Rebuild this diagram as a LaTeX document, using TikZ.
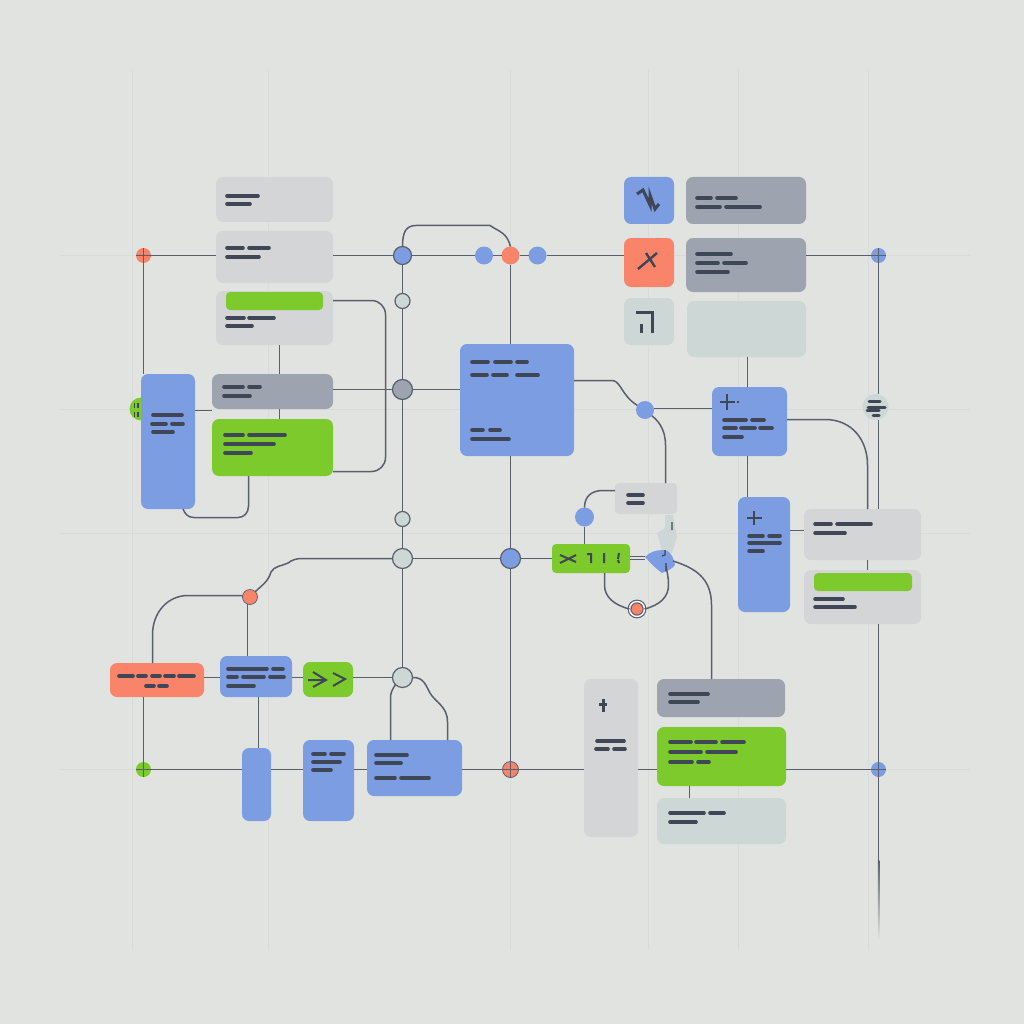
\documentclass[tikz,border=0pt]{standalone}
\usepackage{tikz}
\definecolor{cblue}{HTML}{7C9DE2}
\definecolor{cgreen}{HTML}{7CCA2B}
\definecolor{corange}{HTML}{F9846A}
\definecolor{clight}{HTML}{D3D5D7}
\definecolor{cslate}{HTML}{9DA4B0}
\definecolor{cpale}{HTML}{CDD7D5}
\definecolor{cback}{HTML}{E1E3E0}
\definecolor{cfaint}{HTML}{D9DBD8}
\definecolor{cwire}{HTML}{5A606B}
\definecolor{cbar}{HTML}{3F4656}

\begin{document}
\begin{tikzpicture}[x=1pt, y=-1pt,
    card/.style ={rectangle, rounded corners=7pt, inner sep=0pt, outer sep=0pt},
    hub/.style ={circle, draw=cwire, line width=1.2pt, inner sep=0pt, outer sep=0pt},
    dot/.style ={circle, inner sep=0pt, outer sep=0pt, minimum size=18pt, fill=cblue},
    crossed/.style ={circle, inner sep=0pt, outer sep=0pt, minimum size=15pt,
      path picture={\draw[cwire, line width=0.9pt] (path picture bounding box.north) -- (path picture bounding box.south)
        (path picture bounding box.west) -- (path picture bounding box.east);}},
    wire/.style ={draw=cwire, line width=1.5pt},
    bar/.style ={draw=cbar, line width=3.6pt, line cap=round},
    glyph/.style ={draw=cbar, line width=2pt},
    backline/.style ={draw=cfaint, line width=0.8pt}]
   \useasboundingbox (0,0) rectangle (1024,1024);
   \fill[cback] (0,0) rectangle (1024,1024);

   \draw[backline] (132,70) -- (132,950);
   \draw[backline] (268,70) -- (268,950);
   \draw[backline] (510,70) -- (510,950);
   \draw[backline] (648,70) -- (648,950);
   \draw[backline] (738,70) -- (738,950);
   \draw[backline] (868,70) -- (868,950);
   \draw[backline] (60,255) -- (970,255);
   \draw[backline] (60,409) -- (970,409);
   \draw[backline] (60,533) -- (970,533);
   \draw[backline] (60,769) -- (970,769);

   \node[circle, fill=cgreen, inner sep=0pt, minimum size=23pt] (badge) at (141,409) {};
   \draw[draw=cbar, line width=1.6pt] (134.5,403) -- (134.5,408) (138,403) -- (138,408) (134.5,412) -- (134.5,417) (138,412) -- (138,417);

   % top left column
   \node[card, fill=clight, minimum width=117pt, minimum height=45pt] (cardA) at (274.5,199.5) {};
   \node[card, fill=clight, minimum width=117pt, minimum height=52pt] (cardB) at (274.5,257) {};
   \node[card, fill=clight, minimum width=117pt, minimum height=54pt] (cardC) at (274.5,318) {};
   \node[card, fill=cslate, minimum width=121pt, minimum height=35pt] (cardD) at (272.5,391.5) {};
   \node[card, fill=cgreen, minimum width=121pt, minimum height=57pt] (cardE) at (272.5,447.5) {};
   \node[card, fill=cblue, minimum width=54pt, minimum height=135pt] (tallA) at (168,441.5) {};
   \node[card, fill=cgreen, rounded corners=4pt, minimum width=97pt, minimum height=18pt] (bannerA) at (274.5,301) {};

   % top right
   \node[card, fill=cblue, minimum width=50pt, minimum height=47pt] (iconA) at (649,200.5) {};
   \node[card, fill=corange, minimum width=50pt, minimum height=49pt] (iconB) at (649,262.5) {};
   \node[card, fill=cpale, minimum width=50pt, minimum height=47pt] (iconC) at (649,321.5) {};
   \node[card, fill=cslate, minimum width=120pt, minimum height=47pt] (cardF) at (746,200.5) {};
   \node[card, fill=cslate, minimum width=120pt, minimum height=54pt] (cardG) at (746,265) {};
   \node[card, fill=cpale, minimum width=119pt, minimum height=56pt] (cardH) at (746.5,329) {};
   \node[card, fill=cblue, minimum width=114pt, minimum height=112pt] (bigA) at (517,400) {};
   \node[card, fill=cblue, minimum width=75pt, minimum height=69pt] (blueB) at (749.5,421.5) {};
   \node[card, fill=cblue, minimum width=52pt, minimum height=115pt] (tallB) at (764,554.5) {};
   \node[card, fill=clight, minimum width=117pt, minimum height=51pt] (cardI) at (862.5,534.5) {};
   \node[card, fill=clight, minimum width=117pt, minimum height=54pt] (cardJ) at (862.5,597) {};
   \node[card, fill=cgreen, rounded corners=4pt, minimum width=98pt, minimum height=18pt] (bannerB) at (863,582) {};

   % middle
   \node[card, fill=clight, rounded corners=4pt, minimum width=62pt, minimum height=31pt] (smallA) at (646,498.5) {};
   \node[card, fill=cgreen, rounded corners=4pt, minimum width=78pt, minimum height=29pt] (flag) at (591,558.5) {};

   % bottom right
   \node[card, fill=clight, minimum width=54pt, minimum height=158pt] (tallC) at (611,758) {};
   \node[card, fill=cslate, minimum width=128pt, minimum height=38pt] (cardK) at (721,698) {};
   \node[card, fill=cgreen, minimum width=129pt, minimum height=59pt] (cardL) at (721.5,756.5) {};
   \node[card, fill=cpale, minimum width=129pt, minimum height=46pt] (cardM) at (721.5,821) {};

   % bottom left
   \node[card, fill=corange, minimum width=94pt, minimum height=34pt] (flagA) at (157,680) {};
   \node[card, fill=cblue, minimum width=72pt, minimum height=41pt] (blueC) at (256,676.5) {};
   \node[card, fill=cgreen, minimum width=50pt, minimum height=35pt] (arrowbox) at (328,679.5) {};
   \node[card, fill=cblue, minimum width=29pt, minimum height=73pt] (blueD) at (256.5,784.5) {};
   \node[card, fill=cblue, minimum width=51pt, minimum height=81pt] (blueE) at (328.5,780.5) {};
   \node[card, fill=cblue, minimum width=95pt, minimum height=56pt] (blueF) at (414.5,768) {};

   % round nodes
   \node[crossed, fill=corange] (dotA) at (143.5,255.5) {};
   \node[crossed, fill=cblue] (dotF) at (878.5,255.5) {};
   \node[crossed, fill=cgreen] (dotE) at (143.5,769.5) {};
   \node[crossed, fill=corange, draw=cwire, line width=0.8pt, minimum size=16pt] (dotK) at (510.5,769.5) {};
   \node[crossed, fill=cblue] (dotH) at (878.5,769.5) {};
   \node[dot] (dotB) at (484,255.5) {};
   \node[dot, fill=corange] (dotC) at (510.5,255.5) {};
   \node[dot] (dotD) at (537.5,255.5) {};
   \node[dot] (dotG) at (645,410) {};
   \node[dot, minimum size=19pt] (dotJ) at (584.5,517) {};
   \node[dot, fill=corange, draw=cwire, line width=0.7pt, minimum size=15pt] (dotL) at (250,597) {};
   \node[hub, fill=cblue, minimum size=18pt] (hubA) at (402.5,255.5) {};
   \node[hub, fill=cpale, minimum size=15pt] (hubB) at (402.5,301) {};
   \node[hub, fill=cslate, minimum size=20pt] (hubC) at (402.5,389.5) {};
   \node[hub, fill=cpale, minimum size=15pt] (hubD) at (402.5,519) {};
   \node[hub, fill=cpale, minimum size=20pt] (hubE) at (402.5,558.5) {};
   \node[hub, fill=cpale, minimum size=20pt] (hubF) at (402.5,677.5) {};
   \node[hub, fill=cblue, minimum size=20pt] (hubH) at (510.5,558.5) {};
   \node[hub, fill=corange, double=white, double distance=1.4pt, minimum size=15pt] (hubL) at (637,609) {};
   \node[circle, fill=cpale, inner sep=0pt, minimum size=26pt] (hubG) at (875.5,407) {};

   % blob beside the flag
   \fill[cpale] (665,515) -- (673,515) -- (677,537) -- (672,553) -- (662,550) -- (657,533) -- (665,528) -- cycle;
   \fill[cblue] (645,557) .. controls (650,552) and (655,550) .. (665,550) .. controls (672,552) and (674,560) .. (675,565)
     .. controls (672,569) and (667,571) .. (662,573) .. controls (658,570) and (654,567) .. (645,557) -- cycle;
   \coordinate (blobA) at (645,556.5);
   \coordinate (blobB) at (645,559.5);
   \coordinate (blobC) at (673,561);
   \coordinate (blobD) at (666,566);
   \coordinate (tail) at (878.5,860);
   \coordinate (tapC) at (333,300.5);
   \coordinate (tapG) at (0,408.5);

   % connectors
   \draw[wire] (dotA) -- (dotA -| cardB.west);
   \draw[wire] (cardB.east |- hubA) -- (hubA);
   \draw[wire] (hubA) -- (dotB);
   \draw[wire] (dotB) -- (dotC);
   \draw[wire] (dotC) -- (dotD);
   \draw[wire] (dotD) -- (dotD -| iconB.west);
   \draw[wire] (cardG.east |- dotF) -- (dotF);
   \draw[wire] (dotF) -- (dotF |- hubG.north);
   \draw[wire] (dotF |- hubG.south) -- (dotF |- cardI.north);
   \draw[wire] (dotF |- cardJ.south) -- (dotH);
   \draw[wire] (dotH) -- (tail);
   \shade[top color=cwire, bottom color=cback] (877.75,860) rectangle (879.25,940);
   \draw[wire] (dotA) -- (dotA |- tallA.north);

   \draw[wire] (hubA) -- (hubB);
   \draw[wire] (hubB) -- (hubC);
   \draw[wire] (hubC) -- (hubD);
   \draw[wire] (hubD) -- (hubE);
   \draw[wire] (hubE) -- (hubF);
   \draw[wire] (cardD.east |- hubC) -- (hubC);
   \draw[wire] (hubC) -- (hubC -| bigA.west);
   \draw[wire] (hubE) -- (hubH);
   \draw[wire] (hubH) -- (hubH -| flag.west);
   \draw[wire] (dotC) -- (dotC |- bigA.north);
   \draw[wire] (hubH |- bigA.south) -- (hubH);
   \draw[wire] (hubH) -- (dotK);

   \draw[wire] (hubA.north) .. controls (402.5,232) and (406,225.5) .. (416,225.5) -- (490,225.5) .. controls (500,232) and (507,233) .. (dotC.north);
   \draw[wire] (279.5,345) -- (279.5,374);
   \draw[wire] (279.5,409) -- (279.5,419);
   \draw[wire] (tallA.east |- 0,410.5) -- (212,410.5);
   \draw[wire, rounded corners=14pt] (tapC) -- (385.5,300.5) -- (385.5,471.5) -- (cardE.east |- 0,471.5);
   \draw[wire] (248.5,476) -- (248.5,506) .. controls (248.5,513) and (244,517.5) .. (238,517.5) -- (194,517.5) .. controls (188,517.5) and (185,514) .. (183,509);

   \draw[wire] (747.5,357) -- (747.5,387);
   \draw[wire] (bigA.east |- 0,380.5) -- (613,380.5) .. controls (621,382) and (622,396) .. (dotG);
   \draw[wire] (dotG.east |- tapG) -- (blueB.west |- tapG);
   \draw[wire] (dotG) .. controls (657,420) and (665.5,428) .. (665.5,445) -- (665.5,483);
   \draw[wire] (blueB.east |- 0,419.5) -- (825,419.5) .. controls (852,419.5) and (867.5,440) .. (867.5,465) -- (867.5,509);
   \draw[wire] (867.5,560) -- (867.5,570);
   \draw[wire] (747.5,456) -- (747.5,497);
   \draw[wire] (tallB.east |- 0,530.5) -- (cardI.west |- 0,530.5);

   \draw[wire] (smallA.west |- 0,490.5) -- (603,490.5) .. controls (592,490.5) and (584.5,496) .. (dotJ.north);
   \draw[wire] (dotJ) -- (dotJ |- flag.north);
   \draw[wire, line width=1.2pt] (flag.east |- blobA) -- (blobA);
   \draw[wire, line width=1.2pt] (flag.east |- blobB) -- (blobB);
   \draw[wire] (604.5,573) -- (604.5,585) .. controls (604.5,597) and (614,605) .. (hubL.west);
   \draw[wire] (hubL.east) .. controls (660,605) and (668.5,597) .. (668.5,585) .. controls (668.5,577) and (667,572) .. (blobD);
   \draw[wire] (blobC) .. controls (695,568) and (711.5,578) .. (711.5,605) -- (711.5,679);
   \draw[wire] (689.5,786) -- (689.5,798);

   \draw[wire] (cardL.east |- dotK) -- (dotH);
   \draw[wire] (dotK) -- (dotK -| tallC.west);
   \draw[wire] (tallC.east |- dotK) -- (dotK -| cardL.west);
   \draw[wire] (blueF.east |- dotK) -- (dotK);
   \draw[wire] (blueE.east |- dotE) -- (dotE -| blueF.west);
   \draw[wire] (blueD.east |- dotE) -- (dotE -| blueE.west);
   \draw[wire] (dotE) -- (dotE -| blueD.west);
   \draw[wire] (flagA.south -| dotE) -- (dotE);

   \draw[wire] (flagA.east |- hubF) -- (blueC.west |- hubF);
   \draw[wire] (blueC.east |- hubF) -- (arrowbox.west |- hubF);
   \draw[wire] (arrowbox.east |- hubF) -- (hubF);
   \draw[wire] (152.5,663) -- (152.5,635) .. controls (152.5,612) and (168,595.5) .. (188,595.5) -- (dotL.west |- 0,595.5);
   \draw[wire] (247.5,604) -- (247.5,656);
   \draw[wire] (dotL.north east) .. controls (262,585) and (268,582) .. (271,572) .. controls (274,566) and (282,566) .. (288,563) .. controls (292,560) and (296,558.5) .. (302,558.5) -- (hubE);
   \draw[wire] (258.5,697) -- (258.5,748);
   \draw[wire] (hubF.south west) .. controls (392,690) and (390.5,693) .. (390.5,698) -- (390.5,740);
   \draw[wire] (hubF.east) .. controls (424,677) and (426,686) .. (430,693) .. controls (435,702) and (447.5,706) .. (447.5,722) -- (447.5,740);

   % placeholder lines
   \draw[bar] (227,196) -- (258,196) (227,204) -- (250,204);
   \draw[bar] (227,248) -- (243,248) (249,248) -- (269,248) (227,257) -- (259,257);
   \draw[bar] (227,318) -- (244,318) (249,318) -- (274,318) (227,326) -- (252,326);
   \draw[bar] (224,387) -- (243,387) (249,387) -- (260,387) (224,396) -- (250,396);
   \draw[bar] (225,435) -- (243,435) (249,435) -- (285,435) (225,444) -- (274,444) (225,453) -- (251,453);
   \draw[bar] (153,415) -- (182,415) (152,424) -- (166,424) (172,424) -- (183,424) (153,432) -- (173,432);
   \draw[bar] (472,362) -- (488,362) (495,362) -- (511,362) (517,362) -- (527,362)
     (472,375) -- (487,375) (493,375) -- (507,375) (517,375) -- (538,375)
     (472,430) -- (483,430) (490,430) -- (500,430) (472,439) -- (509,439);
   \draw[bar] (697,198) -- (711,198) (717,198) -- (736,198) (697,207) -- (720,207) (726,207) -- (760,207);
   \draw[bar] (697,254) -- (731,254) (697,263) -- (718,263) (724,263) -- (746,263) (697,272) -- (728,272);
   \draw[bar] (724,420) -- (746,420) (752,420) -- (764,420) (724,428) -- (736,428) (741,428) -- (755,428) (760,428) -- (772,428) (724,437) -- (742,437);
   \draw[bar] (749,536) -- (763,536) (769,536) -- (780,536) (749,543) -- (780,543) (749,551) -- (763,551);
   \draw[bar] (815,524) -- (831,524) (837,524) -- (871,524) (815,533) -- (845,533);
   \draw[bar] (815,599) -- (843,599) (815,607) -- (855,607);
   \draw[bar] (628,495) -- (643,495) (628,503) -- (643,503);
   \draw[bar] (597,741) -- (624,741) (596,749) -- (608,749) (614,749) -- (625,749);
   \draw[bar] (670,694) -- (708,694) (670,702) -- (698,702);
   \draw[bar] (670,742) -- (691,742) (696,742) -- (716,742) (722,742) -- (744,742)
     (670,752) -- (701,752) (707,752) -- (736,752) (670,762) -- (692,762) (698,762) -- (709,762);
   \draw[bar] (670,813) -- (704,813) (710,813) -- (724,813) (670,822) -- (696,822);
   \draw[bar] (119,676) -- (133,676) (138,676) -- (146,676) (152,676) -- (160,676) (165,676) -- (174,676) (179,676) -- (194,676)
     (146,686) -- (154,686) (159,686) -- (167,686);
   \draw[bar] (228,669) -- (267,669) (273,669) -- (283,669) (228,677) -- (237,677) (243,677) -- (264,677) (270,677) -- (284,677) (228,686) -- (254,686);
   \draw[bar] (313,754) -- (325,754) (331,754) -- (344,754) (313,762) -- (340,762) (313,770) -- (331,770);
   \draw[bar] (376,755) -- (407,755) (376,763) -- (401,763) (376,778) -- (395,778) (401,778) -- (429,778);
   \draw[bar, line width=3pt] (869,401) -- (880,401) (868,407) -- (885,407) (867,410) -- (879,410) (873,415) -- (879,415);

   % small marks
   \draw[glyph, line width=3pt] (637,194) -- (643,190) -- (650,205) -- (650,195) -- (655,209) -- (659,204);
   \draw[glyph, line width=2.4pt] (638,269) -- (657,253) (646,253) -- (655,267);
   \draw[glyph, line width=3pt] (636,312) -- (652,312) -- (652,333) (641,324) -- (641,333);
   \draw[glyph] (720,402) -- (735,402) (727,394) -- (727,410) (737,402) -- (739,402);
   \draw[glyph] (747,518) -- (762,518) (754,511) -- (754,525);
   \draw[glyph, line width=3pt] (603,699) -- (603,712) (599,704) -- (607,704);
   \draw[glyph] (308,680) -- (326,680) (313,672) -- (326,680) -- (313,687) (333,673) -- (345,679) -- (333,686);
   \draw[glyph] (560,555) -- (576,562) (560,563) -- (576,555) (587,554) -- (591,554) -- (591,563) (604,553) -- (604,563) (619,553) -- (618,559) (618,560) -- (619,563);
   \draw[glyph, line width=1.2pt] (672,522) -- (672,530) (665,550) -- (665,555) -- (662,556) (666,563) -- (666,571);
\end{tikzpicture}
\end{document}
